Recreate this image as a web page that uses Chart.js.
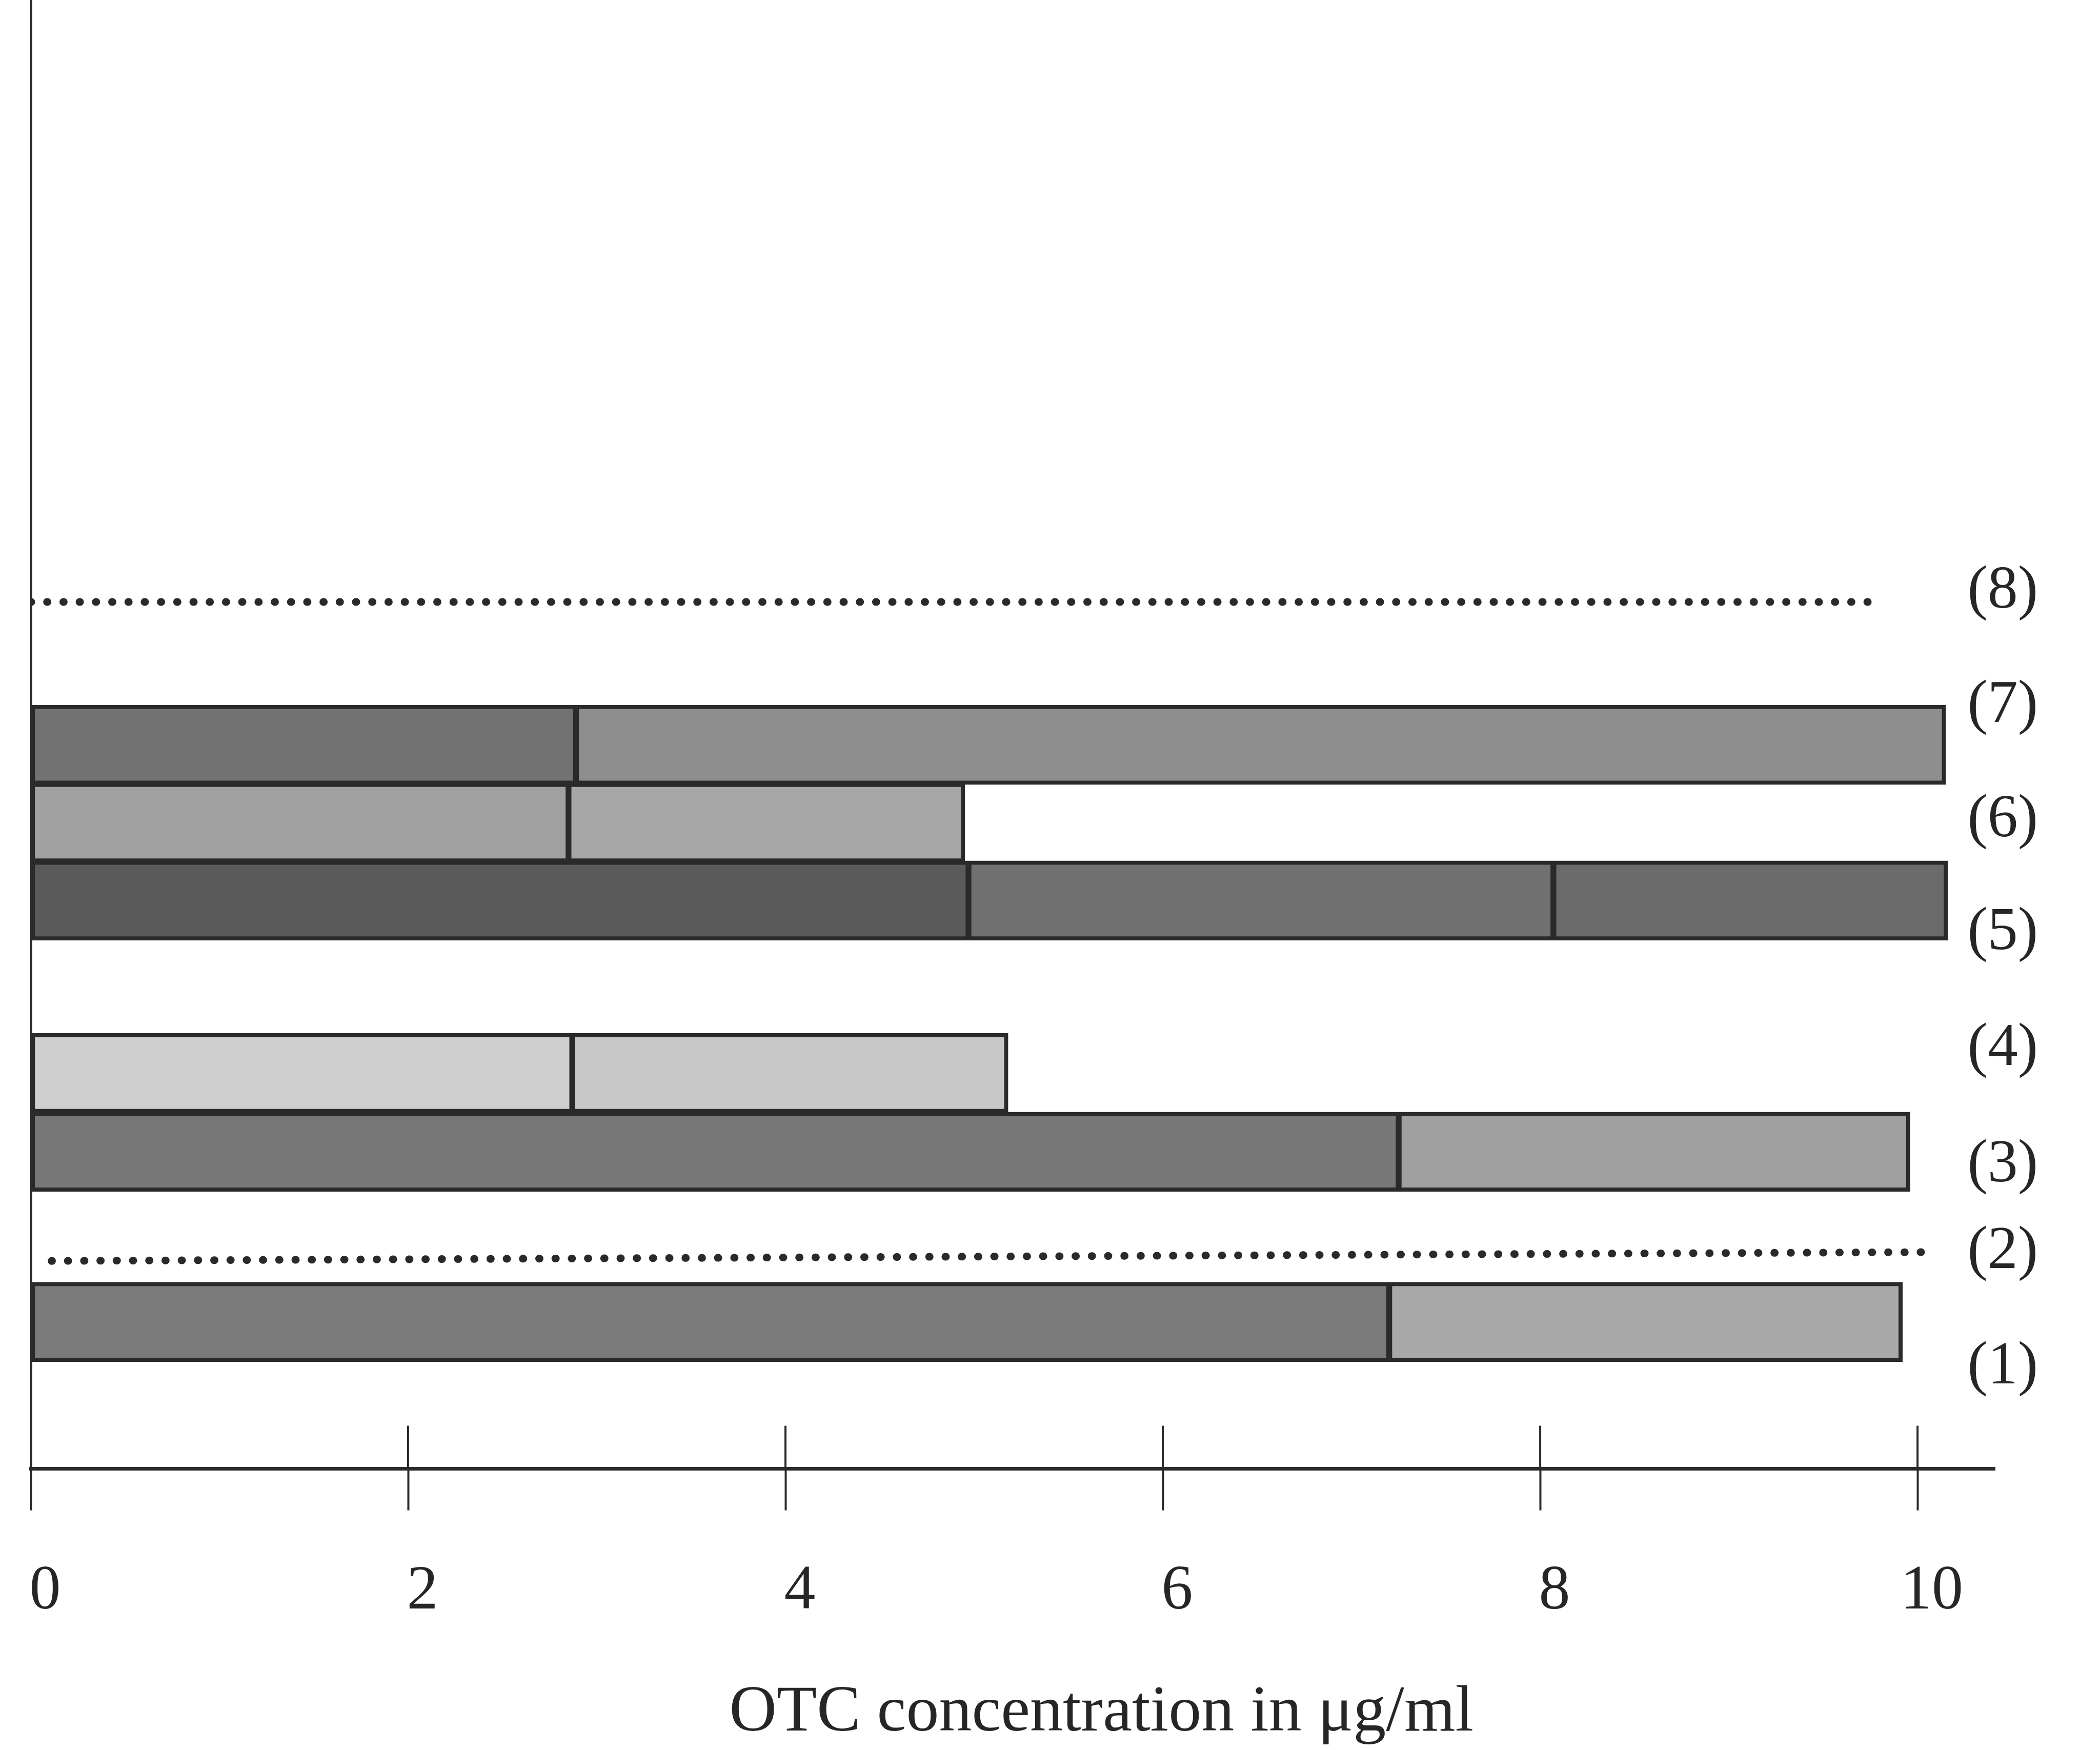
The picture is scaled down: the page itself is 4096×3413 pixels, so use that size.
<!DOCTYPE html>
<html>
<head>
<meta charset="utf-8">
<title>OTC concentration</title>
<script src="https://cdn.jsdelivr.net/npm/chart.js@4.4.1/dist/chart.umd.min.js"></script>
<style>
  html, body { margin: 0; padding: 0; background: #fff; }
  #wrap { width: 4096px; height: 3413px; position: relative; }
</style>
</head>
<body>
<div id="wrap"><canvas id="otcChart"></canvas></div>
<script>
// --- DATA ---
const rowNames = ['(1)', '(2)', '(3)', '(4)', '(5)', '(6)', '(7)', '(8)'];
const labelLevels = [1.26, 2.70, 3.78, 5.23, 6.67, 8.08, 9.50, 10.93];

// bars: row level + segment edges in ug/ml
const barRows = ['(1)', '(3)', '(4)', '(5)', '(6)', '(7)'];
const barLevels = [1.83, 3.95, 4.93, 7.08, 8.05, 9.02];
const barEdges = [
  [0, 7.20, 9.92],
  [0, 7.25, 9.96],
  [0, 2.87, 5.18],
  [0, 4.97, 8.07, 10.16],
  [0, 2.85, 4.95],
  [0, 2.89, 10.15]
];

// dotted rows
const dottedRows = ['(2)', '(8)'];
const dottedFrom = [0.11, 0];
const dottedTo = [10.06, 9.78];
const dottedStartLevel = [2.59, 10.80];
const dottedEndLevel = [2.70, 10.80];

const xTicks = [0, 2, 4, 6, 8, 10];
const xMax = 10.41;
const yMax = 18.3;
const xTitle = 'OTC concentration in μg/ml';

// --- STYLE ---
const shades = [
  ['#7a7a7a', '#a9a9a9'],
  ['#787878', '#a0a0a0'],
  ['#cecece', '#c7c7c7'],
  ['#5a5a5a', '#717171', '#6b6b6b'],
  ['#a1a1a1', '#a7a7a7'],
  ['#727272', '#8e8e8e']
];
const ink = '#2a2a2a';
const serif = "'Liberation Serif', 'Times New Roman', serif";
const outerW = 8, innerW = 6;

// --- BUILD DATASETS ---
const segCount = Math.max(...barEdges.map(e => e.length - 1));
const datasets = [];
for (let k = 0; k < segCount; k++) {
  const data = [], colors = [], widths = [];
  barEdges.forEach((edges, i) => {
    if (edges.length - 1 <= k) return;
    data.push({ x: [edges[k], edges[k + 1]], y: barLevels[i], row: barRows[i] });
    colors.push(shades[i][k]);
    widths.push({
      top: outerW, bottom: outerW,
      left: k === 0 ? outerW : innerW,
      right: k === edges.length - 2 ? outerW : innerW
    });
  });
  datasets.push({
    type: 'bar',
    label: 'segment ' + (k + 1),
    data: data,
    backgroundColor: colors,
    borderColor: ink,
    borderWidth: ctx => widths[ctx.dataIndex],
    borderSkipped: false,
    grouped: false,
    barThickness: 155
  });
}
dottedRows.forEach((row, i) => {
  datasets.push({
    type: 'line',
    label: row,
    data: [{ x: dottedFrom[i], y: dottedStartLevel[i] }, { x: dottedTo[i], y: dottedEndLevel[i] }],
    borderColor: ink,
    borderWidth: 15,
    borderDash: [1, 30.7],
    borderCapStyle: 'round',
    pointRadius: 0,
    fill: false,
    tension: 0
  });
});

// upper half of the x tick marks (they cross the axis line)
const tickUp = {
  id: 'tickUp',
  afterDraw(chart) {
    const { ctx, chartArea, scales: { x } } = chart;
    ctx.save();
    ctx.strokeStyle = ink;
    ctx.lineWidth = 4;
    x.ticks.forEach(t => {
      const px = x.getPixelForValue(t.value);
      ctx.beginPath();
      ctx.moveTo(px, chartArea.bottom - 84);
      ctx.lineTo(px, chartArea.bottom);
      ctx.stroke();
    });
    ctx.restore();
  }
};

new Chart(document.getElementById('otcChart'), {
  type: 'bar',
  data: { datasets: datasets },
  plugins: [tickUp],
  options: {
    indexAxis: 'y',
    responsive: true,
    maintainAspectRatio: false,
    animation: false,
    layout: { padding: 0 },
    plugins: { legend: { display: false }, tooltip: { enabled: false } },
    scales: {
      x: {
        type: 'linear',
        min: 0,
        max: xMax,
        stacked: false,
        offset: false,
        afterBuildTicks: s => { s.ticks = xTicks.map(v => ({ value: v })); },
        grid: { display: true, offset: false, drawOnChartArea: false, drawTicks: true, tickLength: 81, tickWidth: 4, tickColor: ink },
        border: { display: true, width: 7, color: ink },
        ticks: {
          padding: 86,
          labelOffset: 28,
          maxRotation: 0,
          autoSkip: false,
          color: '#262626',
          font: { family: serif, size: 122 },
          callback: v => String(v)
        },
        title: {
          display: true,
          // title sits right of the axis centre in the original
          text: '\u2003\u2003\u2002\u2009' + xTitle,
          color: '#262626',
          font: { family: serif, size: 128, lineHeight: 1 },
          padding: { top: 13, bottom: 8 }
        },
        afterFit: s => { s.paddingLeft = 0; s.paddingRight = 0; }
      },
      y: {
        type: 'linear',
        min: 0,
        max: yMax,
        offset: false,
        ticks: { display: false, stepSize: 10 },
        grid: { display: false, offset: false },
        border: { display: true, width: 5, color: ink },
        afterFit: s => { s.width = 60; s.paddingTop = 0; s.paddingBottom = 0; }
      },
      y2: {
        type: 'linear',
        position: 'right',
        min: 0,
        max: yMax,
        offset: false,
        grid: { display: false, offset: false },
        border: { display: false },
        afterBuildTicks: s => { s.ticks = labelLevels.map(v => ({ value: v })); },
        ticks: {
          mirror: true,
          padding: 84,
          autoSkip: false,
          color: '#262626',
          font: { family: serif, size: 118 },
          callback: (v, i) => rowNames[i]
        },
        afterFit: s => { s.width = 205; s.paddingTop = 0; s.paddingBottom = 0; }
      }
    }
  }
});
</script>
</body>
</html>
